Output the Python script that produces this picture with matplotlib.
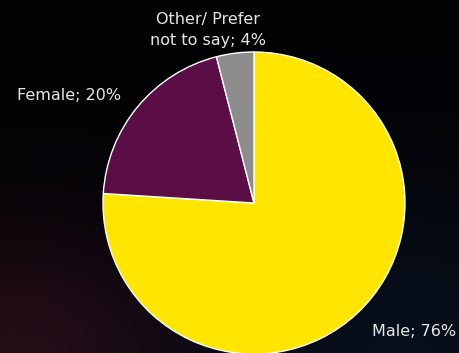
import matplotlib.pyplot as plt
import numpy as np

# gender split of respondents
labels = ['Male', 'Female', 'Other/ Prefer\nnot to say']
shares = [76, 20, 4]
colors = ['#FFE500', '#5B0E45', '#8C8C8C']

# where each label sits (pixel coords, y down)
label_pos = [(414, 332), (69, 95), (208, 30)]

W, H = 459, 353
fig = plt.figure(figsize=(W / 100, H / 100), dpi=100)
ax = fig.add_axes([0, 0, 1, 1])

# dark backdrop with a faint red glow bottom-left and navy bottom-right
yy, xx = np.mgrid[0:H, 0:W]
bg = np.zeros((H, W, 3))
bg[:] = [0.01, 0.01, 0.02]
red = np.exp(-(((xx - 10) / 160.0) ** 2 + ((yy - 360) / 130.0) ** 2))
blue = np.exp(-(((xx - 400) / 220.0) ** 2 + ((yy - 360) / 170.0) ** 2))
bg += red[..., None] * np.array([0.14, 0.04, 0.07])
bg += blue[..., None] * np.array([0.02, 0.05, 0.09])
ax.imshow(np.clip(bg, 0, 1), extent=[0, W, 0, H], origin='upper', zorder=0)

ax.pie(shares, colors=colors, startangle=90, counterclock=False,
       center=(254, H - 203), radius=151,
       wedgeprops=dict(edgecolor='white', linewidth=1.0), frame=True)

for name, val, (x, y) in zip(labels, shares, label_pos):
    ax.text(x, H - y, f'{name}; {val}%', ha='center', va='center',
            color='#E6E6E6', fontsize=11.5, family='DejaVu Sans',
            linespacing=1.5)

ax.set_xlim(0, W)
ax.set_ylim(0, H)
ax.set_aspect('equal')
ax.axis('off')

plt.savefig('out.png', dpi=100)
